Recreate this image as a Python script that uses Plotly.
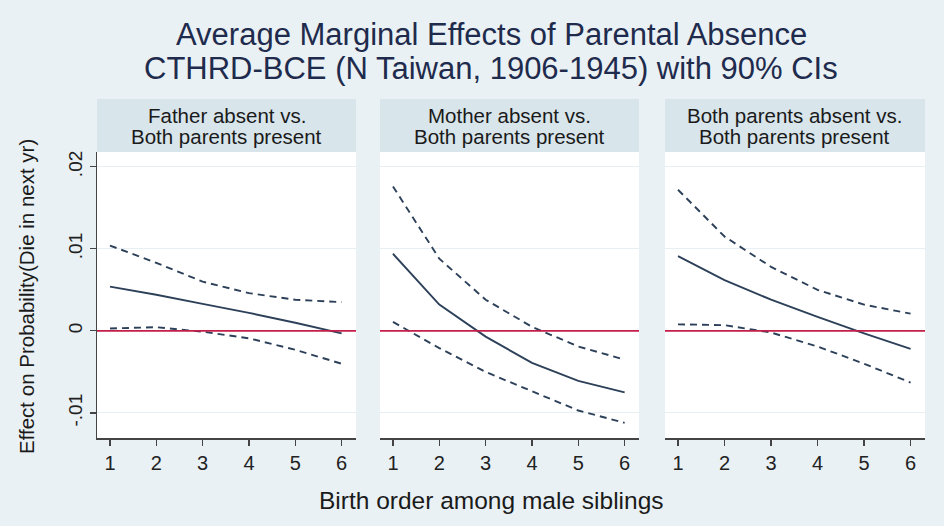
import plotly.graph_objects as go

# ---- data ----
birth_order = [1, 2, 3, 4, 5, 6]
panel_titles = [("Father absent vs.", "Both parents present"),
                ("Mother absent vs.", "Both parents present"),
                ("Both parents absent vs.", "Both parents present")]

father_est = [0.0054, 0.0044, 0.0033, 0.0022, 0.0010, -0.0003]
father_hi = [0.0104, 0.0083, 0.0060, 0.0046, 0.0038, 0.0035]
father_lo = [0.0003, 0.00045, -0.0001, -0.0009, -0.0023, -0.0040]

mother_est = [0.0094, 0.0032, -0.0007, -0.0039, -0.0061, -0.0075]
mother_hi = [0.0176, 0.0088, 0.0038, 0.0005, -0.0019, -0.0035]
mother_lo = [0.0011, -0.0021, -0.0050, -0.0074, -0.0097, -0.0112]

both_est = [0.0091, 0.0062, 0.0038, 0.0017, -0.0003, -0.0022]
both_hi = [0.0172, 0.0115, 0.0078, 0.0050, 0.0032, 0.0021]
both_lo = [0.0008, 0.0007, -0.0002, -0.0019, -0.0040, -0.0063]

y_tickvals = [-0.01, 0, 0.01, 0.02]
y_ticktext = ["-.01", "0", ".01", ".02"]

title_lines = ["Average Marginal Effects of Parental Absence",
               "CTHRD-BCE (N Taiwan, 1906-1945) with 90% CIs"]
x_title = "Birth order among male siblings"
y_title = "Effect on Probability(Die in next yr)"

# ---- style ----
W, H = 944, 526
BG = "#e9f1f4"
STRIP = "#d8e5eb"
LINE = "#2d4059"
RED = "#c41e4a"
AXIS = "#444444"
GRID = "#e8eff2"
FONT = "Liberation Sans"

panels_px = [(97, 356), (380, 639), (665, 925)]
plot_top, plot_bot = 152, 438
strip_top = 99


def px_x(v):
    return v / W


def px_y(v):
    return (H - v) / H


fig = go.Figure()
series = [(father_est, father_hi, father_lo),
          (mother_est, mother_hi, mother_lo),
          (both_est, both_hi, both_lo)]

for i, (est, hi, lo) in enumerate(series):
    xa = "x" if i == 0 else f"x{i+1}"
    ya = "y" if i == 0 else f"y{i+1}"
    for vals, dash in ((hi, "7px,5px"), (lo, "7px,5px"), (est, "solid")):
        fig.add_trace(go.Scatter(x=birth_order, y=vals, mode="lines",
                                 line=dict(color=LINE, width=1.9, dash=dash),
                                 xaxis=xa, yaxis=ya, showlegend=False,
                                 hoverinfo="skip"))

layout = dict(width=W, height=H, paper_bgcolor=BG, plot_bgcolor="white",
              margin=dict(l=0, r=0, t=0, b=0), showlegend=False,
              font=dict(family=FONT, color="#222222"))

for i, (x0, x1) in enumerate(panels_px):
    sfx = "" if i == 0 else str(i + 1)
    layout["xaxis" + sfx] = dict(
        domain=[px_x(x0), px_x(x1)], range=[0.72, 6.31],
        tickvals=birth_order, ticktext=[str(v) for v in birth_order],
        ticks="outside", ticklen=6, tickwidth=1.2, tickcolor=AXIS,
        showline=True, linecolor=AXIS, linewidth=1.5,
        showgrid=False, zeroline=False,
        tickfont=dict(size=20, color="#222222"),
        anchor="y" + sfx, fixedrange=True)
    ya = dict(domain=[px_y(plot_bot), px_y(plot_top)],
              range=[-0.01305, 0.0218],
              tickvals=y_tickvals, ticktext=y_ticktext,
              showgrid=True, gridcolor=GRID, gridwidth=1,
              zeroline=False, anchor="x" + sfx, fixedrange=True)
    if i == 0:
        ya.update(showline=True, linecolor=AXIS, linewidth=1.5,
                  ticks="outside", ticklen=6, tickwidth=1.2, tickcolor=AXIS,
                  tickangle=-90, tickfont=dict(size=19, color="#222222"),
                  showticklabels=True)
    else:
        ya.update(showline=False, ticks="", showticklabels=False)
    layout["yaxis" + sfx] = ya

fig.update_layout(**layout)

shapes = []
annotations = []
for i, (x0, x1) in enumerate(panels_px):
    sfx = "" if i == 0 else str(i + 1)
    shapes.append(dict(type="rect", xref="paper", yref="paper",
                       x0=px_x(x0), x1=px_x(x1),
                       y0=px_y(plot_top), y1=px_y(strip_top),
                       fillcolor=STRIP, line=dict(width=0), layer="below"))
    shapes.append(dict(type="line", xref="x" + sfx + " domain", yref="y" + sfx,
                       x0=0, x1=1, y0=0, y1=0,
                       line=dict(color=RED, width=1.7), layer="above"))
    for line_txt, ypos in zip(panel_titles[i], (115, 137)):
        annotations.append(dict(text=line_txt, xref="paper", yref="paper",
                                x=(px_x(x0) + px_x(x1)) / 2, y=px_y(ypos),
                                showarrow=False, xanchor="center",
                                yanchor="middle",
                                font=dict(size=20.5, color="#1a1a1a",
                                          family=FONT)))

annotations.append(dict(text=title_lines[0], xref="paper", yref="paper",
                        x=px_x(491), y=px_y(35), showarrow=False,
                        xanchor="center", yanchor="middle",
                        font=dict(size=31, color="#1f2b4d", family=FONT)))
annotations.append(dict(text=title_lines[1], xref="paper", yref="paper",
                        x=px_x(491), y=px_y(68), showarrow=False,
                        xanchor="center", yanchor="middle",
                        font=dict(size=31, color="#1f2b4d", family=FONT)))
annotations.append(dict(text=x_title, xref="paper", yref="paper",
                        x=px_x(491), y=px_y(500), showarrow=False,
                        xanchor="center", yanchor="middle",
                        font=dict(size=24.5, color="#1a1a1a", family=FONT)))
annotations.append(dict(text=y_title, xref="paper", yref="paper",
                        x=px_x(26), y=px_y(297), showarrow=False,
                        xanchor="center", yanchor="middle", textangle=-90,
                        font=dict(size=20.5, color="#1a1a1a", family=FONT)))

fig.update_layout(shapes=shapes, annotations=annotations)
fig.write_html("out.html",
               config={"displayModeBar": False, "staticPlot": True},
               post_script="document.body.style.margin='0';"
                           "document.body.style.background='" + BG + "';")
